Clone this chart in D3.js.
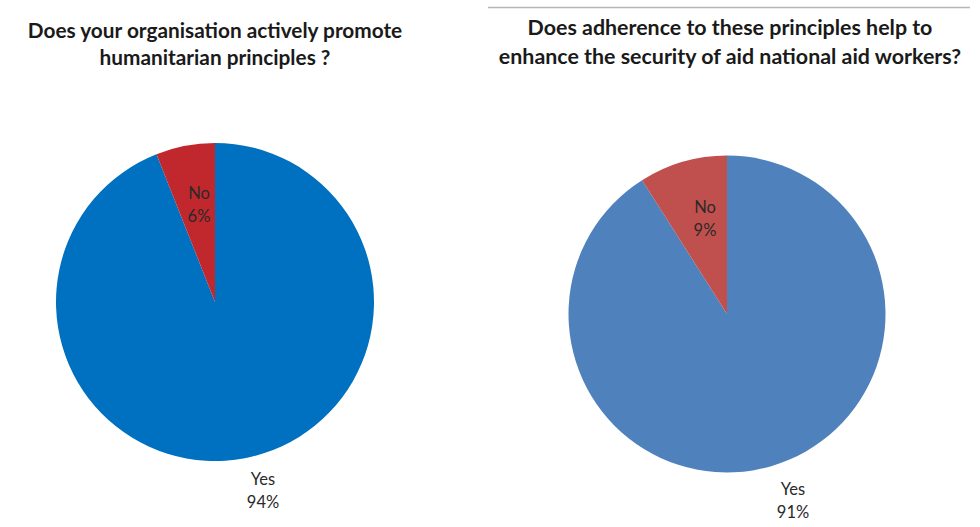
<!DOCTYPE html>
<html><head><meta charset="utf-8">
<script src="https://cdn.jsdelivr.net/npm/d3@7"></script>
<style>body{margin:0;background:#fff}svg{display:block}</style>
</head><body>
<svg id="c" width="980" height="527"></svg>
<script>
const categories = ["Yes", "No"];
const leftValues = [94, 6];
const rightValues = [91, 9];
const leftTitle = ["Does your organisation actively promote", "humanitarian principles ?"];
const rightTitle = ["Does adherence to these principles help to", "enhance the security of aid national aid workers?"];
const leftColors = ["#0070C0", "#C0282D"];
const rightColors = ["#4F81BD", "#C0504D"];

const svg = d3.select("#c");
const font = "Lato, 'Open Sans', sans-serif";

svg.append("line").attr("x1", 488).attr("x2", 970).attr("y1", 7.5).attr("y2", 7.5)
  .attr("stroke", "#b5b5b5").attr("stroke-width", 1.5);

function drawPie(cfg) {
  const g = svg.append("g").attr("transform", `translate(${cfg.cx},${cfg.cy})`);
  const pie = d3.pie().sort(null).value(d => d.v);
  const data = pie(categories.map((c, i) => ({c, v: cfg.values[i]})));
  const arc = d3.arc().innerRadius(0).outerRadius(cfg.r);
  g.selectAll("path").data(data).join("path")
    .attr("d", arc).attr("fill", (d, i) => cfg.colors[i]);
  // title
  const t = svg.append("text").attr("font-family", font).attr("font-weight", "bold")
    .attr("font-size", cfg.titleSize).attr("fill", "#1a1a1a").attr("text-anchor", "middle");
  cfg.title.forEach((line, i) => {
    t.append("tspan").attr("x", cfg.titleX).attr("y", cfg.titleY[i]).text(line);
  });
  // labels
  data.forEach((d, i) => {
    const p = cfg.labelPos[i];
    const lt = svg.append("text").attr("font-family", font).attr("font-size", 16.5)
      .attr("fill", "#2a2a2a").attr("text-anchor", "middle");
    lt.append("tspan").attr("x", p[0]).attr("y", p[1]).text(d.data.c);
    lt.append("tspan").attr("x", p[0]).attr("y", p[1] + 23).text(d.data.v + "%");
  });
}

drawPie({cx: 215, cy: 302, r: 159, values: leftValues, colors: leftColors,
  title: leftTitle, titleX: 215, titleY: [38, 65], titleSize: 20.8,
  labelPos: [[263, 485], [199, 199]]});
drawPie({cx: 727, cy: 314, r: 158.5, values: rightValues, colors: rightColors,
  title: rightTitle, titleX: 730, titleY: [35, 64], titleSize: 21.4,
  labelPos: [[793, 495], [705, 213]]});
</script>
</body></html>
